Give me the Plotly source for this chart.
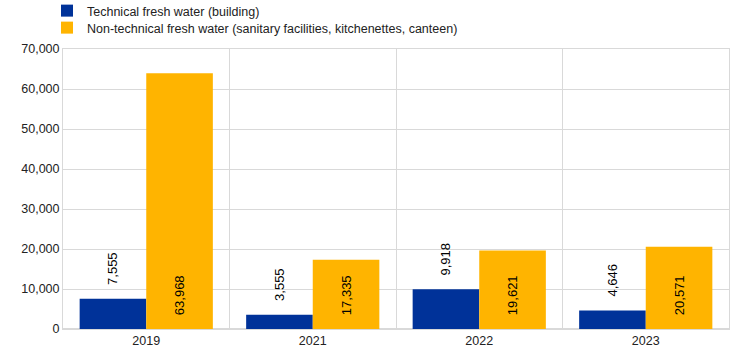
import plotly.graph_objects as go

categories = ["2019", "2021", "2022", "2023"]
technical = [7555, 3555, 9918, 4646]
non_technical = [63968, 17335, 19621, 20571]
series_names = ["Technical fresh water (building)",
                "Non-technical fresh water (sanitary facilities, kitchenettes, canteen)"]
y_ticks = [0, 10000, 20000, 30000, 40000, 50000, 60000, 70000]

pad = "\u00a0\u00a0\u00a0"
W, H = 744, 357

fig = go.Figure()
fig.add_trace(go.Bar(
    x=categories, y=technical, name=series_names[0],
    marker=dict(color="#003299", line=dict(width=0)),
    texttemplate=pad + "%{y:,}", textposition="outside", textangle=-90,
    textfont=dict(color="#000000", size=13, family="Liberation Sans, Arial"),
    cliponaxis=False, legend="legend",
))
fig.add_trace(go.Bar(
    x=categories, y=non_technical, name=series_names[1],
    marker=dict(color="#FFB400", line=dict(width=0)),
    texttemplate=pad + "%{y:,}", textposition="inside", insidetextanchor="start",
    textangle=-90,
    textfont=dict(color="#000000", size=13, family="Liberation Sans, Arial"),
    legend="legend2",
))

leg_common = dict(
    orientation="v", xref="container", yref="container",
    x=47 / W, xanchor="left", yanchor="middle",
    font=dict(size=12.5, color="#222222"), bgcolor="rgba(0,0,0,0)",
    itemclick=False,
)

fig.update_layout(
    width=W, height=H,
    margin=dict(l=63, r=15, t=49, b=28, autoexpand=False),
    paper_bgcolor="white", plot_bgcolor="white",
    barmode="group", bargap=0.2, bargroupgap=0,
    font=dict(family="Liberation Sans, Arial", size=12.5, color="#222222"),
    showlegend=True,
    legend=dict(leg_common, y=1 - 11 / H),
    legend2=dict(leg_common, y=1 - 28 / H),
    xaxis=dict(
        type="category", tickson="boundaries", showgrid=True,
        gridcolor="#d9d9d9", gridwidth=1, ticks="", showline=True,
        linecolor="#d9d9d9", mirror=True,
        tickfont=dict(size=12.5, color="#222222"),
    ),
    yaxis=dict(
        range=[0, 70000], tickvals=y_ticks, tickformat=",",
        showgrid=True, gridcolor="#d9d9d9", gridwidth=1,
        zeroline=True, zerolinecolor="#d9d9d9", showline=True,
        linecolor="#d9d9d9", mirror=True, ticks="",
        tickfont=dict(size=12.5, color="#222222"),
    ),
)

fig.write_html("out.html", config={"displayModeBar": False},
               post_script="document.body.style.margin='0';")
